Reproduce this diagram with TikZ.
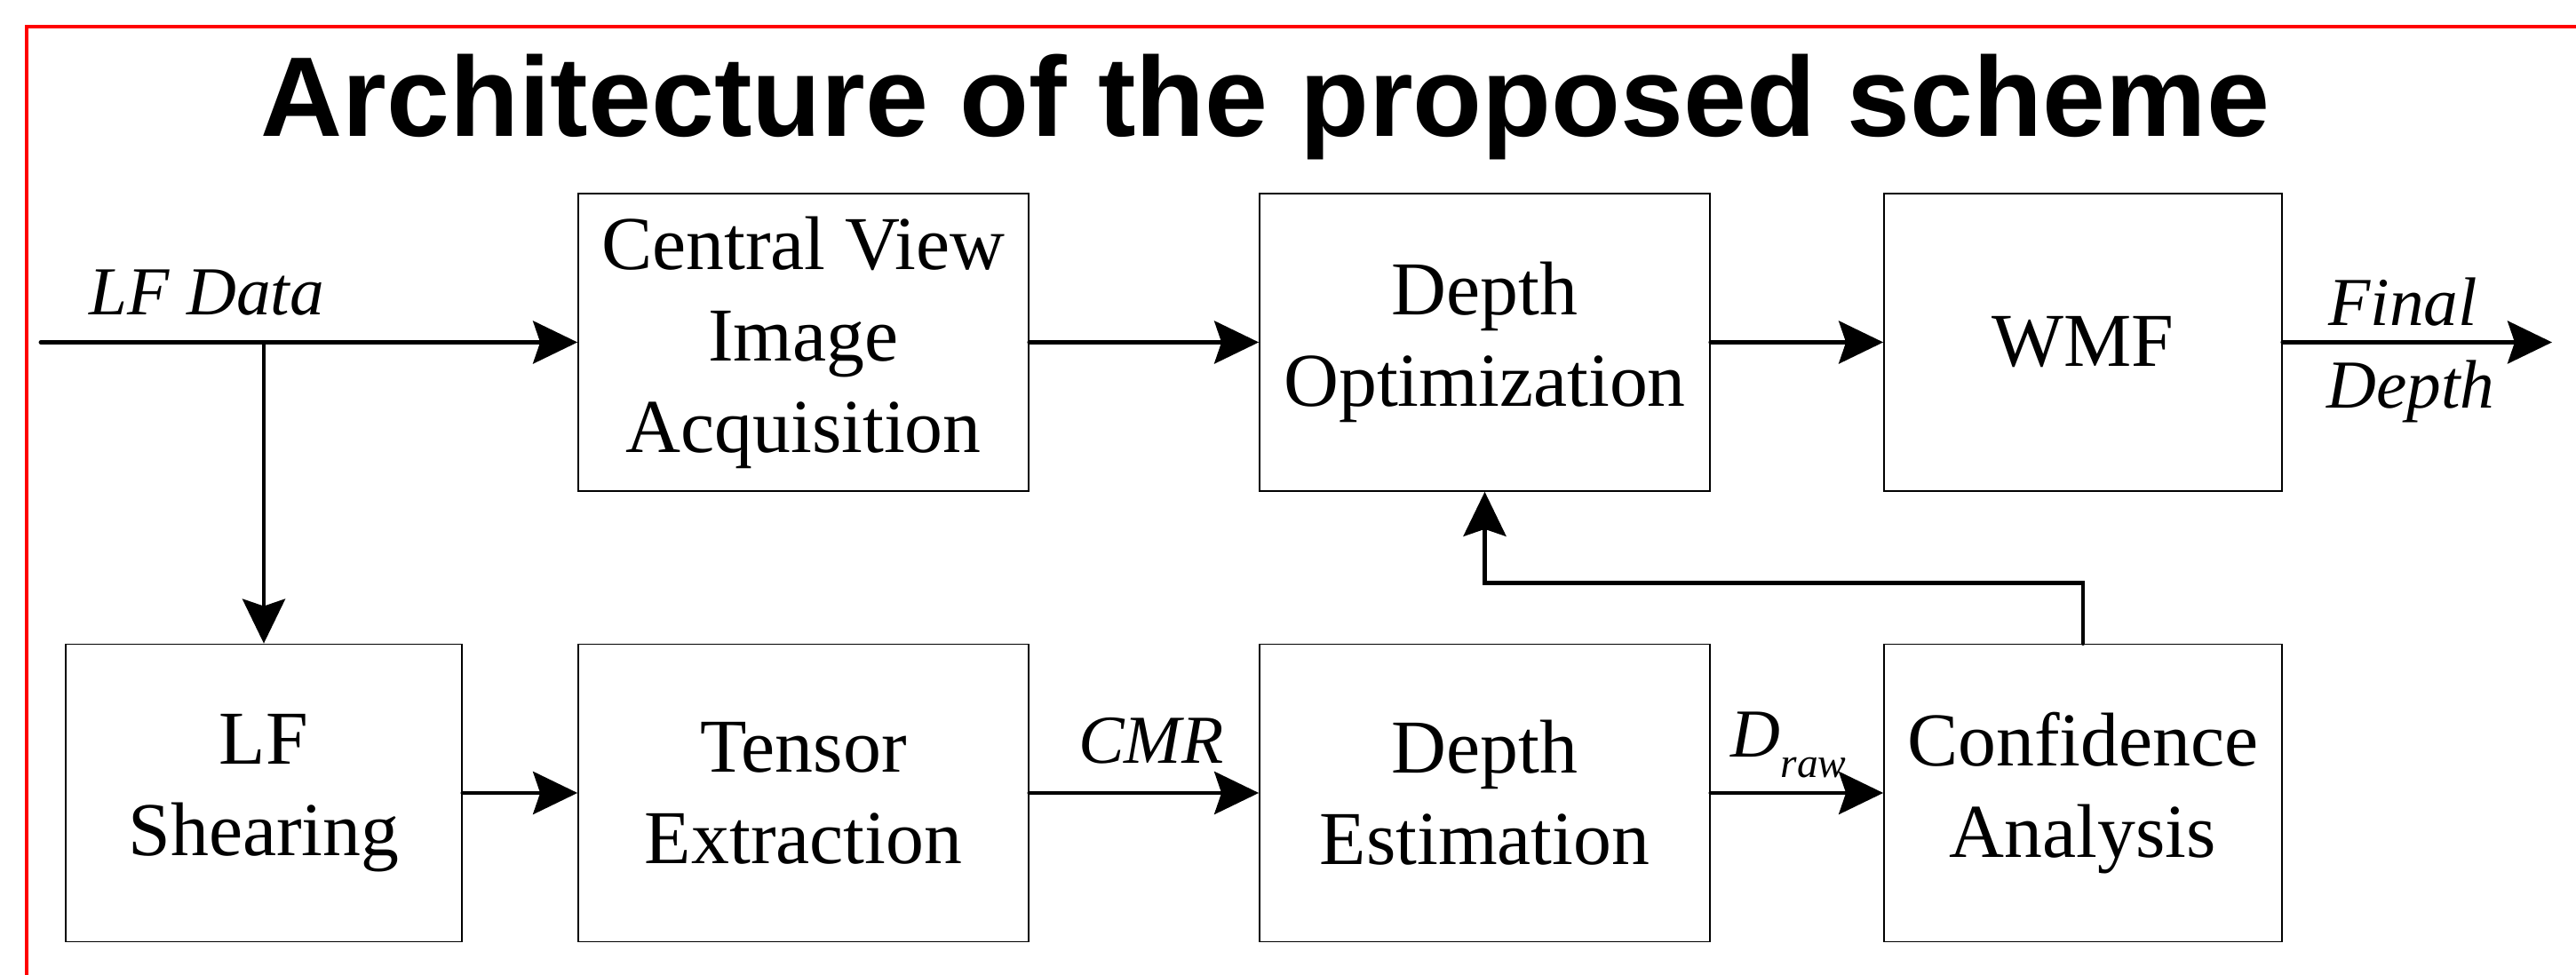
\documentclass[tikz,border=0pt]{standalone}
\usepackage{fontspec}
\setmainfont{Liberation Serif}
\newfontfamily\headfont{Liberation Sans}
\usetikzlibrary{arrows.meta}

\begin{document}
\begin{tikzpicture}[
		block/.style={draw, line width=0.5pt, inner sep=0, minimum height=3.35cm, align=center, font=\fontsize{24.4}{29.3}\selectfont},
		lbl/.style={inner sep=0, font=\fontsize{22}{26}\selectfont\itshape},
		flow/.style={draw, line width=1.4pt, line cap=round, -{Stealth[length=0.5cm, width=0.48cm, inset=0.08cm]}}
	]
		\useasboundingbox (0, 0) rectangle (29, 10.98);
		% frame and heading
		\draw[red, line width=0.04cm] (0.30, 0) -- (0.30, 10.68) -- (29, 10.68);
		\node[anchor=base, inner sep=0, font=\headfont\bfseries\fontsize{36.3}{40}\selectfont] (H) at (14.245, 9.44) {Architecture of the proposed scheme};

		% top row
		\node[block, minimum width=5.07cm] (T1) at (9.045, 7.125) {Central View\\Image\\Acquisition};
		\node[block, minimum width=5.07cm] (T2) at (16.715, 7.125) {Depth\\Optimization};
		\node[block, minimum width=4.48cm] (T3) at (23.45, 7.125) {WMF};
		% bottom row
		\node[block, minimum width=4.46cm] (B1) at (2.97, 2.05) {LF\\Shearing};
		\node[block, minimum width=5.07cm] (B2) at (9.045, 2.05) {Tensor\\Extraction};
		\node[block, minimum width=5.07cm] (B3) at (16.715, 2.05) {Depth\\Estimation};
		\node[block, minimum width=4.48cm] (B4) at (23.45, 2.05) {Confidence\\Analysis};

		\coordinate (src) at (0.46, 7.125);
		\coordinate (br) at (2.97, 7.125);
		\coordinate (dst) at (28.73, 7.125);

		\draw[flow] (src) -- (T1);
		\draw[flow] (br) -- (B1);
		\foreach \a/\b in {T1/T2, T2/T3, T3/dst, B1/B2, B2/B3, B3/B4}
		{
			\draw[flow] (\a) -- (\b);
		}
		\draw[flow] (B4.north) -- ++(0, 0.685) -| (T2.south);

		% signal labels
		\node[lbl, anchor=base west] (L1) at (1.00, 7.43) {LF Data};
		\node[lbl, anchor=base] (L2) at (12.96, 2.38) {CMR};
		\node[lbl, anchor=base west] (L3) at (19.48, 2.45) {D\raisebox{-6.3pt}{\fontsize{13.5}{14}\selectfont raw}};
		\node[lbl, anchor=base] (L4) at (27.05, 7.31) {Final};
		\node[lbl, anchor=base] (L5) at (27.14, 6.38) {Depth};
	\end{tikzpicture}
\end{document}
